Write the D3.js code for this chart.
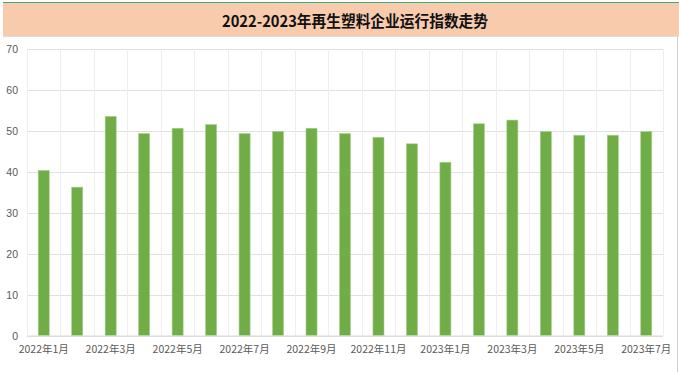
<!DOCTYPE html>
<html><head><meta charset="utf-8">
<script src="https://cdn.jsdelivr.net/npm/d3@7"></script>
<style>html,body{margin:0;padding:0;background:#fff;}svg{display:block;}</style>
</head><body>
<svg id="c" width="679" height="372"></svg>
<script>
const title = "2022-2023年再生塑料企业运行指数走势";
const categories = ["2022年1月","2022年2月","2022年3月","2022年4月","2022年5月","2022年6月","2022年7月","2022年8月","2022年9月","2022年10月","2022年11月","2022年12月","2023年1月","2023年2月","2023年3月","2023年4月","2023年5月","2023年6月","2023年7月"];
const values = [40.4, 36.3, 53.6, 49.4, 50.7, 51.6, 49.4, 49.9, 50.7, 49.4, 48.5, 46.9, 42.4, 51.8, 52.7, 49.9, 49.0, 49.0, 49.9];
const yTicks = [0,10,20,30,40,50,60,70];

const svg = d3.select("#c");
const font = "'Noto Sans CJK SC','Noto Sans',sans-serif";

// title band
svg.append("rect").attr("x",3).attr("y",3).attr("width",676).attr("height",33).attr("fill","#F8CBAD");
svg.append("line").attr("x1",3).attr("x2",679).attr("y1",2.5).attr("y2",2.5).attr("stroke","#3DAA7A").attr("stroke-width",1.2);
svg.append("line").attr("x1",3).attr("x2",679).attr("y1",36.5).attr("y2",36.5).attr("stroke","#dcdcdc").attr("stroke-width",1);
svg.append("text").attr("x",355).attr("y",20).attr("text-anchor","middle").attr("dominant-baseline","central")
  .attr("font-family",font).attr("font-weight","bold").attr("font-size",15.5).attr("fill","#111")
  .attr("textLength",266).attr("lengthAdjust","spacingAndGlyphs").text(title);
// right border
svg.append("line").attr("x1",677.5).attr("x2",677.5).attr("y1",37).attr("y2",372).attr("stroke","#d0d0d0");

const m = {left:27, right:663, top:49.3, bottom:335.7};
const x = d3.scaleBand().domain(categories).range([m.left,m.right]).paddingInner(0.67).paddingOuter(0.335);
const xb = d3.scaleBand().domain(categories).range([m.left,m.right]);
const y = d3.scaleLinear().domain([0,70]).range([m.bottom,m.top]);

// horizontal grid
svg.append("g").selectAll("line").data(yTicks).join("line")
  .attr("x1",m.left).attr("x2",m.right).attr("y1",d=>Math.round(y(d))+0.5).attr("y2",d=>Math.round(y(d))+0.5)
  .attr("stroke","#e0e0e0").attr("stroke-width",1);
// vertical grid
svg.append("g").selectAll("line").data(categories.map((c,i)=>i).concat([categories.length])).join("line")
  .attr("x1",i=>Math.round(m.left + i*xb.step())+0.5).attr("x2",i=>Math.round(m.left + i*xb.step())+0.5)
  .attr("y1",m.top).attr("y2",m.bottom).attr("stroke","#eeeeee").attr("stroke-width",1);

// y labels
const yAxis = d3.axisLeft(y).tickValues(yTicks).tickSize(0).tickPadding(0);
const ga = svg.append("g").attr("transform",`translate(18,0)`).call(yAxis);
ga.select(".domain").remove();
ga.selectAll("text").attr("font-family","'Liberation Sans','DejaVu Sans',sans-serif").attr("font-size",10.5).attr("fill","#595959");

// bars
svg.append("g").selectAll("rect").data(values).join("rect")
  .attr("x",(d,i)=>x(categories[i])).attr("width",x.bandwidth())
  .attr("y",d=>y(d)).attr("height",d=>y(0)-y(d))
  .attr("fill","#70AD47").attr("stroke","#A9D08E").attr("stroke-width",0.6);

// x axis line
svg.append("line").attr("x1",m.left).attr("x2",m.right).attr("y1",336).attr("y2",336).attr("stroke","#d9d9d9");

// x labels
const xAxis = d3.axisBottom(xb).tickValues(categories.filter((c,i)=>i%2===0)).tickSize(0).tickPadding(0);
const gx = svg.append("g").attr("transform",`translate(0,346)`).call(xAxis);
gx.select(".domain").remove();
gx.selectAll("text").attr("font-family",font).attr("font-size",10.5).attr("fill","#595959").attr("dy","0.71em");
</script>
</body></html>
